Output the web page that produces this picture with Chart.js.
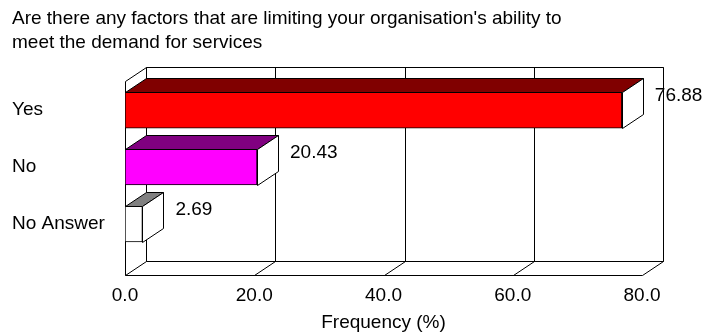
<!DOCTYPE html>
<html>
<head>
<meta charset="utf-8">
<script src="https://cdn.jsdelivr.net/npm/chart.js@4.4.1/dist/chart.umd.min.js"></script>
<style>
  html, body { margin: 0; padding: 0; background: #fff; }
  #wrap { width: 709px; height: 336px; }
</style>
</head>
<body>
<div id="wrap"><canvas id="factorsChart" width="709" height="336"></canvas></div>
<script>
// Respuestas y porcentajes
const categories = ['Yes', 'No', 'No Answer'];
const frequencies = [76.88, 20.43, 2.69];
const xTicks = [0, 20, 40, 60, 80];
const titleLines = [
    "Are there any factors that are limiting your organisation's ability to",
    'meet the demand for services'
];

// colores: cara frontal y cara superior de cada barra
const frontColors = ['#ff0000', '#ff00ff', '#ffffff'];
const topColors = ['#800000', '#800080', '#808080'];

const DX = 21;  // profundidad horizontal del efecto 3D
const DY = 14;  // profundidad vertical del efecto 3D
const FONT = '"Liberation Sans", Arial, sans-serif';

Chart.defaults.color = '#000';
Chart.defaults.font.family = FONT;
Chart.defaults.font.size = 19;

function px(v) { return Math.round(v) + 0.5; }

// Paredes, suelo y rejilla del fondo (antes de las barras)
const frame3d = {
    id: 'frame3d',
    beforeDatasetsDraw(chart) {
        const ctx = chart.ctx;
        const a = chart.chartArea;
        const xs = chart.scales.x;
        ctx.save();
        ctx.strokeStyle = '#000';
        ctx.lineWidth = 1;
        ctx.beginPath();
        // pared del fondo
        ctx.rect(px(a.left + DX), px(a.top - DY), Math.round(a.right - a.left), Math.round(a.bottom - a.top));
        // pared izquierda
        ctx.moveTo(px(a.left), px(a.top));
        ctx.lineTo(px(a.left + DX), px(a.top - DY));
        // eje frontal
        ctx.moveTo(px(a.left), px(a.top));
        ctx.lineTo(px(a.left), px(a.bottom));
        ctx.lineTo(px(a.right), px(a.bottom));
        xTicks.forEach(t => {
            const x = xs.getPixelForValue(t);
            // linea de rejilla en la pared del fondo
            ctx.moveTo(px(x + DX), px(a.top - DY));
            ctx.lineTo(px(x + DX), px(a.bottom - DY));
            // diagonal en el suelo
            ctx.moveTo(px(x), px(a.bottom));
            ctx.lineTo(px(x + DX), px(a.bottom - DY));
        });
        ctx.stroke();
        ctx.restore();
    },
    afterDatasetsDraw(chart) {
        const ctx = chart.ctx;
        const bars = chart.getDatasetMeta(0).data;
        ctx.save();
        ctx.strokeStyle = '#000';
        ctx.lineWidth = 1;
        bars.forEach((bar, i) => {
            const top = bar.y - bar.height / 2;
            const bottom = bar.y + bar.height / 2;
            // cara superior
            ctx.beginPath();
            ctx.moveTo(px(bar.base), px(top));
            ctx.lineTo(px(bar.base + DX), px(top - DY));
            ctx.lineTo(px(bar.x + DX), px(top - DY));
            ctx.lineTo(px(bar.x), px(top));
            ctx.closePath();
            ctx.fillStyle = topColors[i];
            ctx.fill();
            ctx.stroke();
            // cara lateral
            ctx.beginPath();
            ctx.moveTo(px(bar.x), px(top));
            ctx.lineTo(px(bar.x + DX), px(top - DY));
            ctx.lineTo(px(bar.x + DX), px(bottom - DY));
            ctx.lineTo(px(bar.x), px(bottom));
            ctx.closePath();
            ctx.fillStyle = '#ffffff';
            ctx.fill();
            ctx.stroke();
            // etiqueta con el valor
            ctx.fillStyle = '#000';
            ctx.font = '19px ' + FONT;
            ctx.textAlign = 'left';
            ctx.textBaseline = 'middle';
            ctx.fillText(frequencies[i].toFixed(2), bar.x + DX + 12, top + 4);
        });
        ctx.restore();
    }
};

const ctx = document.getElementById('factorsChart').getContext('2d');
const factorsChart = new Chart(ctx, {
    type: 'bar',
    data: {
        datasets: [{
            data: categories.map((c, i) => ({ x: frequencies[i], y: i })),
            backgroundColor: frontColors,
            borderColor: '#000',
            borderWidth: 1,
            borderSkipped: false,
            barThickness: 36
        }]
    },
    options: {
        indexAxis: 'y',
        responsive: false,
        animation: false,
        layout: { padding: { left: 12, right: 67, top: 0, bottom: 0 } },
        plugins: {
            legend: { display: false },
            tooltip: { enabled: false },
            title: {
                display: true,
                text: titleLines,
                align: 'start',
                color: '#000',
                font: { size: 19, weight: 'normal', lineHeight: 24 / 19 },
                padding: { top: 6.9, bottom: 26.1 }
            }
        },
        scales: {
            x: {
                type: 'linear',
                min: 0,
                max: 80,
                grid: { display: false },
                border: { display: false },
                afterBuildTicks: scale => { scale.ticks = xTicks.map(v => ({ value: v })); },
                afterFit: scale => { scale.height = 61; },
                ticks: {
                    padding: 1,
                    callback: v => Number(v).toFixed(1)
                },
                title: {
                    display: true,
                    text: 'Frequency (%)',
                    padding: { top: 0, bottom: 2 }
                }
            },
            y: {
                type: 'linear',
                offset: false,
                reverse: true,
                min: -0.51,
                max: 2.895,
                grid: { display: false, offset: false },
                border: { display: false },
                afterBuildTicks: scale => { scale.ticks = categories.map((c, i) => ({ value: i })); },
                afterFit: scale => { scale.width = 113; },
                ticks: {
                    crossAlign: 'far',
                    callback: v => categories[v]
                }
            }
        }
    },
    plugins: [frame3d]
});
</script>
</body>
</html>
